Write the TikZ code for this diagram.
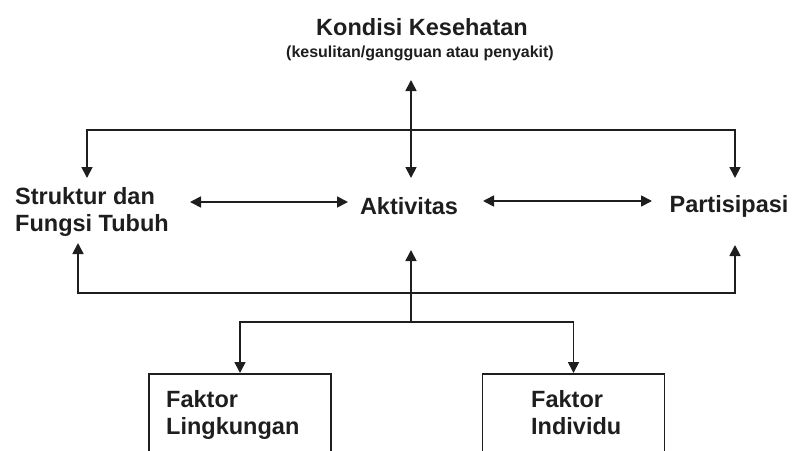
\documentclass[tikz,border=0pt]{standalone}
\usepackage{fontspec}
\setmainfont{Liberation Sans}
\usetikzlibrary{arrows.meta}
\definecolor{ink}{HTML}{1E1E1E}
\tikzset{
  lbl/.style={font=\bfseries\fontsize{23.5}{27}\selectfont, text=ink, inner sep=0pt, align=left},
  sublbl/.style={font=\bfseries\fontsize{16}{18}\selectfont, text=ink, inner sep=0pt},
  con/.style={draw=ink, line width=1.7pt},
  arr/.style={con, -{Triangle[width=11pt,length=11pt]}},
  darr/.style={con, {Triangle[width=11pt,length=11pt]}-{Triangle[width=11pt,length=11pt]}},
  fbox/.style={draw=ink, line width=1.7pt, minimum width=182pt, minimum height=110pt, anchor=north, inner sep=0pt}
}
\begin{document}
\begin{tikzpicture}[x=1pt,y=-1pt]
\useasboundingbox (0,0) rectangle (792,450);
\clip (0,0) rectangle (792,450);
% texts
\node[lbl] (kond) at (422,27) {Kondisi Kesehatan};
\node[sublbl] (sub) at (420,53) {(kesulitan/gangguan atau penyakit)};
\node[lbl, anchor=west] (str) at (15,212) {Struktur dan\\Fungsi Tubuh};
\node[lbl] (akt) at (409,206) {Aktivitas};
\node[lbl] (par) at (729,206) {Partisipasi};
% boxes
\node[fbox] (fl) at (240,373) {};
\node[fbox] (fi) at (573.5,373) {};
\node[lbl, anchor=north west] (flt) at (166,390) {Faktor\\Lingkungan};
\node[lbl, anchor=north west] (fit) at (531,390) {Faktor\\Individu};
% coordinates
\coordinate (kT) at (411,80);
\coordinate (aT) at (411,178);
\coordinate (busT) at (411,130);
\coordinate (sT) at (87,178);
\coordinate (pT) at (735,178);
\coordinate (sR) at (190,202);
\coordinate (aL) at (348,202);
\coordinate (aR) at (483,201);
\coordinate (pL) at (652,201);
\coordinate (sB) at (78,243);
\coordinate (pB) at (735,245);
\coordinate (aB) at (411,250);
\coordinate (busB) at (411,293);
\coordinate (fork) at (411,322);
% connectors
\draw[darr] (kT) -- (aT);
\draw[arr] (busT) -| (sT);
\draw[arr] (busT) -| (pT);
\draw[darr] (sR) -- (aL);
\draw[darr] (aR) -- (pL);
\draw[arr] (busB) -| (sB);
\draw[arr] (busB) -| (pB);
\draw[arr] (fork) -- (aB);
\draw[arr] (fork) -| (fl.north);
\draw[arr] (fork) -| (fi.north);
\end{tikzpicture}
\end{document}
